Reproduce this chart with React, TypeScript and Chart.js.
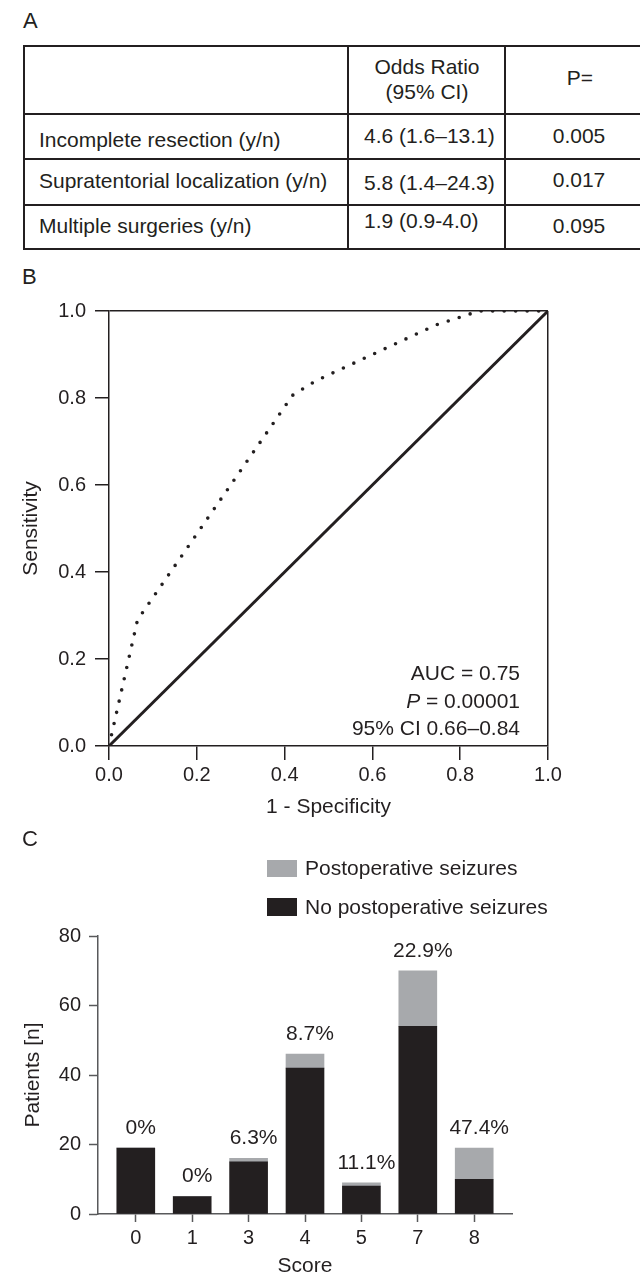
import React, { useEffect, useRef } from "react";
import { Chart, registerables } from "chart.js";

Chart.register(...registerables);

const FONT = '"Liberation Sans", Arial, Helvetica, sans-serif';
const INK = "#231f20";
const GREY = "#a7a9ac";
const AXIS_GREY = "#58595b";

// ---------- Panel A: table ----------
const headerOdds = ["Odds Ratio", "(95% CI)"];
const headerP = "P=";
const factors = [
  "Incomplete resection (y/n)",
  "Supratentorial localization (y/n)",
  "Multiple surgeries (y/n)",
];
const oddsRatios = ["4.6 (1.6–13.1)", "5.8 (1.4–24.3)", "1.9 (0.9-4.0)"];
const pValues = ["0.005", "0.017", "0.095"];

// ---------- Panel B: ROC ----------
const rocFpr = [0, 0.065, 0.418, 0.47, 0.745, 0.843, 0.876, 1];
const rocTpr = [0, 0.29, 0.806, 0.839, 0.968, 1, 1, 1];
const refFpr = [0, 1];
const refTpr = [0, 1];
const rocStep = 0.2;
const rocTitleX = "1 - Specificity";
const rocTitleY = "Sensitivity";
const aucText = "AUC = 0.75";
const pText = "= 0.00001";
const ciText = "95% CI 0.66–0.84";

// ---------- Panel C: bars ----------
const scores = ["0", "1", "3", "4", "5", "7", "8"];
const noSeizures = [19, 5, 15, 42, 8, 54, 10];
const seizures = [0, 0, 1, 4, 1, 16, 9];
const seizurePct = ["0%", "0%", "6.3%", "8.7%", "11.1%", "22.9%", "47.4%"];
const barYMax = 80;
const barYStep = 20;
const legendLabels = ["Postoperative seizures", "No postoperative seizures"];

Chart.defaults.font.family = FONT;
Chart.defaults.color = INK;

type TxtProps = {
  x: number;
  y: number;
  align?: "left" | "center" | "right";
  size?: number;
  children: React.ReactNode;
};

function Txt({ x, y, align = "left", size = 21, children }: TxtProps) {
  const tx = align === "left" ? "0" : align === "center" ? "-50%" : "-100%";
  return (
    <div
      style={{
        position: "absolute",
        left: x,
        top: y,
        transform: `translate(${tx}, -50%)`,
        fontFamily: FONT,
        fontSize: size,
        lineHeight: 1.15,
        color: INK,
        whiteSpace: "nowrap",
      }}
    >
      {children}
    </div>
  );
}

function Line({ x, y, w, h }: { x: number; y: number; w: number; h: number }) {
  return (
    <div
      style={{
        position: "absolute",
        left: x,
        top: y,
        width: w,
        height: h,
        background: INK,
      }}
    />
  );
}

function TablePanel() {
  const rowYs = [46, 114, 159, 205, 249];
  const colXs = [24, 348, 505, 660];
  const textYs = [140, 181, 226];
  const oddsYs = [136, 183, 221];
  const pYs = [136, 180, 226];
  return (
    <>
      {rowYs.map((y, i) => (
        <Line key={"h" + i} x={colXs[0] - 1} y={y - 1} w={colXs[3] - colXs[0] + 2} h={2.2} />
      ))}
      {colXs.map((x, i) => (
        <Line key={"v" + i} x={x - 1} y={rowYs[0] - 1} w={2.2} h={rowYs[4] - rowYs[0] + 2} />
      ))}
      <Txt x={427} y={67} align="center">{headerOdds[0]}</Txt>
      <Txt x={427} y={92} align="center">{headerOdds[1]}</Txt>
      <Txt x={580} y={78} align="center">{headerP}</Txt>
      {factors.map((f, i) => (
        <Txt key={"f" + i} x={39} y={textYs[i]}>{f}</Txt>
      ))}
      {oddsRatios.map((o, i) => (
        <Txt key={"o" + i} x={364} y={oddsYs[i]}>{o}</Txt>
      ))}
      {pValues.map((p, i) => (
        <Txt key={"p" + i} x={579} y={pYs[i]} align="center">{p}</Txt>
      ))}
    </>
  );
}

function RocChart() {
  const ref = useRef<HTMLCanvasElement | null>(null);
  useEffect(() => {
    if (!ref.current) return;
    const tickFont = { family: FONT, size: 20 };
    const titleFont = { family: FONT, size: 21, lineHeight: 1 };
    const chart = new Chart(ref.current, {
      type: "scatter",
      data: {
        datasets: [
          {
            data: rocFpr.map((x, i) => ({ x, y: rocTpr[i] })),
            showLine: true,
            borderColor: INK,
            borderWidth: 3.6,
            borderDash: [0, 11.5],
            borderCapStyle: "round",
            pointRadius: 0,
            fill: false,
            tension: 0,
          },
          {
            data: refFpr.map((x, i) => ({ x, y: refTpr[i] })),
            showLine: true,
            borderColor: INK,
            borderWidth: 3,
            pointRadius: 0,
            fill: false,
          },
        ],
      },
      options: {
        responsive: false,
        animation: false,
        layout: { padding: { left: 0, right: 92, top: 16, bottom: 0 } },
        plugins: { legend: { display: false }, tooltip: { enabled: false } },
        scales: {
          x: {
            type: "linear",
            min: 0,
            max: 1,
            afterFit: (s: any) => {
              s.height = 84;
            },
            ticks: {
              stepSize: rocStep,
              callback: (v: any) => Number(v).toFixed(1),
              font: tickFont,
              color: INK,
              padding: 3,
              maxRotation: 0,
              autoSkip: false,
            },
            grid: {
              drawOnChartArea: true,
              color: (ctx: any) =>
                ctx.tick && Math.abs(ctx.tick.value - 1) < 1e-9 ? INK : "rgba(0,0,0,0)",
              lineWidth: 1.5,
              tickLength: 14,
              tickColor: INK,
              tickWidth: 1.5,
            },
            border: { color: INK, width: 1.5 },
            title: {
              display: true,
              text: rocTitleX,
              font: titleFont,
              color: INK,
              padding: { top: 0, bottom: 12.5 },
            },
          },
          y: {
            type: "linear",
            min: 0,
            max: 1,
            afterFit: (s: any) => {
              s.width = 109;
            },
            ticks: {
              stepSize: rocStep,
              callback: (v: any) => Number(v).toFixed(1),
              font: tickFont,
              color: INK,
              padding: 9,
            },
            grid: {
              drawOnChartArea: true,
              color: (ctx: any) =>
                ctx.tick && Math.abs(ctx.tick.value - 1) < 1e-9 ? INK : "rgba(0,0,0,0)",
              lineWidth: 1.5,
              tickLength: 14,
              tickColor: INK,
              tickWidth: 1.5,
            },
            border: { color: INK, width: 1.5 },
            title: {
              display: true,
              text: rocTitleY,
              font: titleFont,
              color: INK,
              padding: { top: 21, bottom: 0 },
            },
          },
        },
      } as any,
    });
    return () => chart.destroy();
  }, []);
  return (
    <canvas
      ref={ref}
      width={640}
      height={540}
      style={{ position: "absolute", left: 0, top: 290, width: 640, height: 540 }}
    />
  );
}

const pctLabelPlugin = {
  id: "pctLabels",
  afterDatasetsDraw(chart: any) {
    const meta = chart.getDatasetMeta(1);
    const ctx = chart.ctx;
    ctx.save();
    ctx.font = `21px ${FONT}`;
    ctx.fillStyle = INK;
    ctx.textAlign = "center";
    ctx.textBaseline = "middle";
    meta.data.forEach((el: any, i: number) => {
      ctx.fillText(seizurePct[i], el.x + 5, el.y - 20);
    });
    ctx.restore();
  },
};

function BarChart() {
  const ref = useRef<HTMLCanvasElement | null>(null);
  useEffect(() => {
    if (!ref.current) return;
    const tickFont = { family: FONT, size: 20 };
    const titleFont = { family: FONT, size: 21, lineHeight: 1 };
    const chart = new Chart(ref.current, {
      type: "bar",
      data: {
        datasets: [
          {
            label: legendLabels[1],
            data: noSeizures.map((v, i) => ({ x: i, y: v })),
            backgroundColor: INK,
            barThickness: 38,
          },
          {
            label: legendLabels[0],
            data: seizures.map((v, i) => ({ x: i, y: v })),
            backgroundColor: GREY,
            barThickness: 38,
          },
        ],
      },
      options: {
        responsive: false,
        animation: false,
        layout: { padding: { left: 0, right: 128, top: 106, bottom: 0 } },
        plugins: { legend: { display: false }, tooltip: { enabled: false } },
        scales: {
          x: {
            type: "linear",
            stacked: true,
            offset: false,
            min: -0.67,
            max: 6.67,
            afterFit: (s: any) => {
              s.height = 63;
            },
            ticks: {
              stepSize: 1,
              includeBounds: false,
              autoSkip: false,
              maxRotation: 0,
              callback: (v: any) => (scores[v as number] !== undefined ? scores[v as number] : ""),
              font: tickFont,
              color: INK,
              padding: 4,
            },
            grid: {
              offset: false,
              drawOnChartArea: false,
              tickLength: 8,
              tickColor: AXIS_GREY,
              tickWidth: 1.5,
            },
            border: { color: AXIS_GREY, width: 1.5 },
            title: {
              display: true,
              text: "Score",
              font: titleFont,
              color: INK,
              padding: { top: 0, bottom: 0 },
            },
          },
          y: {
            type: "linear",
            stacked: true,
            min: 0,
            max: barYMax,
            afterFit: (s: any) => {
              s.width = 98;
            },
            ticks: {
              stepSize: barYStep,
              font: tickFont,
              color: INK,
              padding: 8,
            },
            grid: {
              drawOnChartArea: false,
              tickLength: 9,
              tickColor: AXIS_GREY,
              tickWidth: 1.5,
            },
            border: { color: AXIS_GREY, width: 1.5 },
            title: {
              display: true,
              text: "Patients [n]",
              font: titleFont,
              color: INK,
              padding: { top: 22.5, bottom: 0 },
            },
          },
        },
      } as any,
      plugins: [pctLabelPlugin],
    });
    return () => chart.destroy();
  }, []);
  return (
    <canvas
      ref={ref}
      width={640}
      height={447}
      style={{ position: "absolute", left: 0, top: 830, width: 640, height: 447 }}
    />
  );
}

export default function App() {
  return (
    <div
      style={{
        position: "absolute",
        left: 0,
        top: 0,
        width: 640,
        height: 1277,
        overflow: "hidden",
        background: "#ffffff",
        fontFamily: FONT,
      }}
    >
      <Txt x={23} y={21} size={22}>A</Txt>
      <TablePanel />
      <Txt x={22} y={277} size={22}>B</Txt>
      <RocChart />
      <Txt x={520} y={673} align="right">{aucText}</Txt>
      <Txt x={520} y={701} align="right">
        <span style={{ fontStyle: "italic" }}>P</span> {pText}
      </Txt>
      <Txt x={520} y={728} align="right">{ciText}</Txt>
      <Txt x={22} y={839} size={22}>C</Txt>
      <BarChart />
      <div
        style={{
          position: "absolute",
          left: 267,
          top: 860,
          width: 30,
          height: 17,
          background: GREY,
        }}
      />
      <Txt x={305} y={868}>{legendLabels[0]}</Txt>
      <div
        style={{
          position: "absolute",
          left: 267,
          top: 898,
          width: 30,
          height: 18,
          background: INK,
        }}
      />
      <Txt x={305} y={907}>{legendLabels[1]}</Txt>
    </div>
  );
}
